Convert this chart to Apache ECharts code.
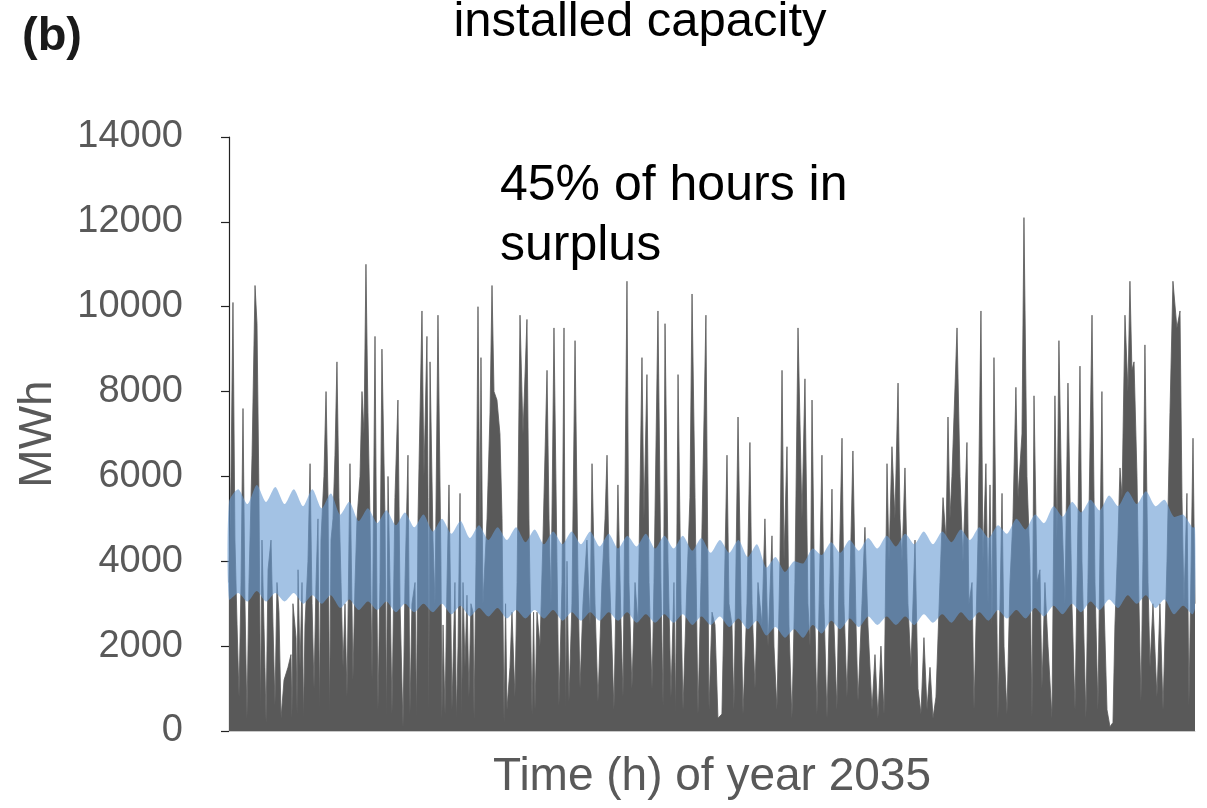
<!DOCTYPE html>
<html>
<head>
<meta charset="utf-8">
<script src="https://cdn.jsdelivr.net/npm/echarts@6/dist/echarts.min.js"></script>
<style>html,body{margin:0;padding:0;background:#fff;}#c{width:1207px;height:808px;}</style>
</head>
<body>
<div id="c"></div>
<script>
// Hourly generation (MWh): [hour of year, MWh]
const generation = [
[0,3500],[18,6000],[36,10100],[54,4500],[73,2500],[91,800],[109,3500],[127,7600],[145,3000],[163,300],
[181,3500],[209,6500],[236,10500],[254,9600],[272,5500],[286,500],[299,4500],[326,1500],[336,200],[354,3800],[381,4500],
[399,2500],[417,600],[435,3500],[453,2800],[472,300],[499,1200],[535,1500],[562,1800],[571,300],[580,3000],[608,2200],
[617,400],[626,3800],[644,1500],[662,3500],[676,300],[689,2500],[716,4000],[735,6300],[753,3000],[771,1000],[789,3500],[807,5000],
[820,500],[834,4500],[861,6000],[880,8000],[898,5500],[912,400],[925,4500],[943,5000],[961,6500],[979,8700],[997,5500],[1016,3500],
[1034,1500],[1052,3000],[1070,800],[1097,6300],[1115,3000],[1124,1200],[1143,3500],[1161,5000],[1188,6000],[1206,8000],
[1224,7000],[1242,11000],[1260,7500],[1279,5000],[1297,1200],[1324,9300],[1342,3000],[1351,500],[1369,3500],[1387,9000],
[1415,5000],[1428,300],[1442,6000],[1460,3500],[1478,400],[1505,5500],[1532,7800],[1551,3000],[1578,100],[1596,3500],[1623,6500],
[1641,400],[1659,3000],[1687,3500],[1700,300],[1714,5000],[1750,9900],[1768,6000],[1795,9300],[1805,5500],[1812,500],[1823,8700],[1850,4500],
[1868,3000],[1895,9800],[1922,4000],[1931,300],[1941,2500],[1959,400],[1977,3500],[1995,5800],[2013,2500],[2022,500],[2049,3500],
[2062,300],[2077,2000],[2095,5600],[2110,400],[2122,3500],[2140,1500],[2158,3200],[2176,800],[2194,3000],[2213,2800],[2222,300],[2240,4000],
[2258,10000],[2276,4500],[2285,8800],[2303,3000],[2340,5000],[2367,7500],[2385,10500],[2403,8000],[2430,7800],[2457,7000],
[2476,5000],[2494,200],[2508,3000],[2521,500],[2548,1500],[2566,2800],[2593,800],[2612,3500],[2639,9800],[2666,7000],[2702,9700],
[2720,5000],[2748,400],[2762,2800],[2775,500],[2793,2800],[2820,2000],[2847,4500],[2884,8500],[2902,5000],[2920,3000],[2947,9500],
[2974,4000],[2992,600],[3020,3500],[3038,9500],[3052,500],[3065,4000],[3083,700],[3110,3000],[3138,9200],[3165,3500],[3183,1000],
[3210,3000],[3246,4500],[3274,2500],[3292,6300],[3319,3000],[3346,700],[3382,3500],[3410,5000],[3428,6500],[3446,4000],
[3473,2000],[3491,500],[3527,5800],[3555,2500],[3573,800],[3609,10600],[3627,3500],[3654,1000],[3682,3500],[3709,2500],
[3745,8800],[3763,5000],[3790,8400],[3809,3500],[3836,1000],[3854,3500],[3890,9900],[3917,3500],[3936,600],[3954,9600],
[3981,4000],[4008,800],[4035,3500],[4050,400],[4072,8400],[4099,3000],[4117,500],[4153,3500],[4180,5500],[4199,10300],[4226,5500],
[4253,400],[4280,3500],[4325,9800],[4353,500],[4380,2800],[4407,2500],[4434,300],[4470,400],[4516,6500],[4534,3000],
[4561,2500],[4579,500],[4616,7400],[4643,3000],[4661,400],[4697,3000],[4724,6800],[4743,3000],[4770,1000],[4797,3500],
[4833,2500],[4860,5000],[4888,2000],[4924,4600],[4942,2000],[4969,500],[4996,4000],[5015,8500],[5033,4000],[5060,6700],
[5078,2500],[5105,300],[5132,3500],[5160,9500],[5196,5000],[5223,8300],[5250,3000],[5269,2000],[5287,7800],[5314,2500],
[5332,400],[5377,6500],[5395,3000],[5423,300],[5450,3500],[5468,5700],[5486,2500],[5513,500],[5531,3500],[5559,6900],
[5577,3000],[5604,800],[5631,3500],[5658,6600],[5686,2500],[5704,700],[5740,3000],[5767,4800],[5794,2500],[5831,500],
[5858,1800],[5885,300],[5912,2000],[5940,400],[5967,6300],[5985,4000],[6012,6700],[6039,5000],[6067,8200],[6085,5000],
[6103,4000],[6130,6200],[6157,3000],[6184,1500],[6221,4500],[6248,1000],[6275,400],[6302,2200],[6330,500],[6357,1500],
[6384,300],[6411,800],[6447,3500],[6475,5500],[6502,4500],[6520,7400],[6538,5000],[6556,6000],[6602,9500],[6629,6000],
[6656,4000],[6692,6800],[6710,3000],[6738,3500],[6756,500],[6792,4500],[6819,9900],[6837,4000],[6864,6300],[6883,3000],
[6901,5800],[6919,2500],[6937,8800],[6964,2500],[6973,300],[7010,5600],[7028,2000],[7055,400],[7082,3500],[7109,5000],
[7136,8100],[7155,5500],[7191,7000],[7209,12100],[7236,6000],[7263,4000],[7282,300],[7300,7900],[7327,3500],[7354,3800],
[7372,1000],[7399,3500],[7427,2000],[7463,300],[7490,7900],[7508,4500],[7526,9200],[7554,5000],[7581,3000],[7608,8200],
[7644,3000],[7672,500],[7699,5000],[7717,8600],[7735,4000],[7771,300],[7789,3500],[7826,9800],[7853,3500],[7880,500],
[7916,8000],[7935,3000],[7962,500],[7989,100],[8016,200],[8034,2500],[8061,4500],[8080,6200],[8098,5500],[8125,9800],
[8152,8000],[8170,10600],[8188,8500],[8207,8700],[8234,6000],[8252,3000],[8270,700],[8288,4000],[8306,9100],[8334,3500],
[8352,1500],[8379,3000],[8415,800],[8442,3000],[8470,500],[8506,4000],[8533,7500],[8560,10600],[8596,9500],[8624,9900],
[8642,5500],[8660,3000],[8687,5600],[8705,600],[8742,6900],[8760,3000]
];

// Demand band (MWh), one value per week: weekend dips (at week start) and weekday humps (mid-week)
const demandUpperDip = [5400,5350,5400,5350,5300,5250,5100,4950,4900,4850,4800,4700,4650,4550,4500,4500,4450,4400,4400,4400,4350,4300,4350,4300,4300,4250,4200,4200,4100,3850,3750,3950,4150,4200,4250,4300,4350,4400,4400,4450,4500,4550,4650,4750,4900,5050,5150,5200,5300,5350,5300,5050,4800];
const demandUpperPeak = [5700,5800,5750,5700,5700,5600,5400,5250,5200,5150,5100,5000,4950,4850,4800,4800,4750,4700,4700,4700,4650,4600,4650,4600,4600,4550,4500,4500,4400,4100,4000,4300,4450,4500,4550,4600,4650,4700,4700,4750,4800,4850,5000,5100,5300,5400,5450,5550,5650,5650,5450,5100];
const demandLowerDip = [3100,3050,3050,3050,3000,3000,2900,2850,2850,2800,2800,2800,2750,2700,2700,2650,2650,2650,2600,2600,2600,2600,2550,2550,2550,2500,2500,2450,2400,2250,2200,2200,2300,2400,2450,2500,2500,2500,2550,2550,2600,2600,2650,2650,2700,2750,2800,2850,2900,3000,2900,2750,2750];
const demandLowerPeak = [3250,3300,3250,3250,3200,3200,3100,3050,3050,3000,3000,3000,2950,2900,2900,2850,2850,2850,2800,2800,2800,2800,2750,2750,2750,2700,2700,2650,2600,2450,2400,2500,2600,2650,2700,2700,2700,2750,2750,2800,2800,2850,2850,2900,2950,3000,3050,3100,3200,3200,3100,2950];
const demandEnd = {hour: 8760, upper: 4800, lower: 2900};

const yTicks = {min: 0, max: 14000, interval: 2000};
const texts = {
  panel: '(b)',
  title: 'installed capacity',
  note: '45% of hours in\nsurplus',
  xName: 'Time (h) of year 2035',
  yName: 'MWh'
};

// build band edges: [hour, upper, lower]
const band = [];
for (let w = 0; w < demandUpperDip.length; w++) {
  const h0 = w * 168;
  band.push([h0, demandUpperDip[w], demandLowerDip[w]]);
  if (w < demandUpperPeak.length) {
    band.push([h0 + 84, demandUpperPeak[w], demandLowerPeak[w]]);
  }
}
band.push([demandEnd.hour, demandEnd.upper, demandEnd.lower]);

const FONT = '"Liberation Sans", Arial, sans-serif';
const chart = echarts.init(document.getElementById('c'));
chart.setOption({
  animation: false,
  backgroundColor: '#ffffff',
  grid: {left: 229, right: 12, top: 137, bottom: 77},
  xAxis: {
    type: 'value', min: 0, max: 8760,
    name: texts.xName, nameLocation: 'middle', nameGap: 23,
    nameTextStyle: {fontFamily: FONT, fontSize: 46, color: '#595959'},
    axisLine: {show: true, lineStyle: {color: '#c8c8c8', width: 1}},
    axisTick: {show: false}, axisLabel: {show: false}, splitLine: {show: false}
  },
  yAxis: {
    type: 'value', min: yTicks.min, max: yTicks.max, interval: yTicks.interval,
    name: texts.yName, nameLocation: 'middle', nameGap: 168, nameRotate: 90,
    nameTextStyle: {fontFamily: FONT, fontSize: 46, color: '#595959'},
    axisLine: {show: true, lineStyle: {color: '#222', width: 1.2}},
    axisTick: {show: true, length: 8, lineStyle: {color: '#222', width: 1.2}},
    axisLabel: {fontFamily: FONT, fontSize: 38, color: '#595959', margin: 46, formatter: v => String(v)},
    splitLine: {show: false}
  },
  series: [
    {
      type: 'line', name: 'generation', data: generation, symbol: 'none', sampling: 'none',
      lineStyle: {width: 0.8, color: '#595959'},
      areaStyle: {color: '#595959', opacity: 1},
      z: 2
    },
    {
      type: 'custom', name: 'demand', coordinateSystem: 'cartesian2d',
      data: band,
      encode: {x: 0, y: [1, 2]},
      renderItem: function (params, api) {
        if (params.dataIndex !== 0) return null;
        const pts = [];
        for (let i = 0; i < band.length; i++) pts.push(api.coord([band[i][0], band[i][1]]));
        for (let i = band.length - 1; i >= 0; i--) pts.push(api.coord([band[i][0], band[i][2]]));
        return {
          type: 'polygon',
          shape: {points: pts, smooth: 0.25},
          style: {fill: 'rgba(102,153,210,0.6)', stroke: null}
        };
      },
      z: 3
    }
  ],
  graphic: [
    {type: 'text', left: 22, top: 14, style: {text: texts.panel, font: 'bold 47px ' + FONT, fill: '#1a1a1a'}},
    {type: 'text', x: 640, y: -2, style: {text: texts.title, font: '49px ' + FONT, fill: '#000', textAlign: 'center', textVerticalAlign: 'top'}},
    {type: 'text', left: 500, top: 156, style: {text: texts.note, font: '50px ' + FONT, fill: '#000', lineHeight: 60}}
  ]
});
</script>
</body>
</html>
